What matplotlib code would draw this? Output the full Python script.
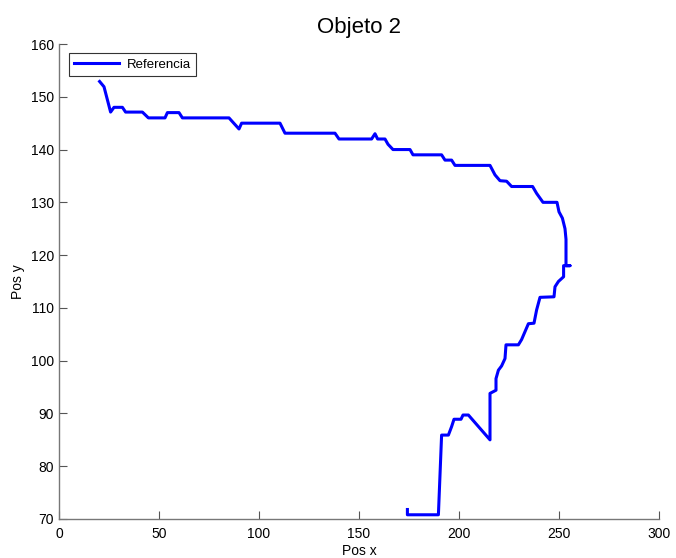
import matplotlib
matplotlib.use("Agg")
import matplotlib.pyplot as plt

plt.rcParams['font.family'] = ['Liberation Sans', 'DejaVu Sans']

pos_x = [20.3, 22.5, 25.8, 27.5, 31.7, 33.3, 41.7, 44.7, 53.0, 54.2, 60.0, 61.7, 85.0, 90.0, 91.3,
         110.5, 113.0, 138.0, 140.0, 156.3, 158.0, 159.3, 163.0, 164.5, 167.0, 175.5, 177.0,
         191.3, 193.0, 196.3, 198.0, 215.5, 218.0, 220.5, 223.8, 226.3, 236.8, 238.8, 242.0,
         249.0, 250.0, 251.7, 253.0, 253.5, 253.5, 255.5, 252.3, 252.3, 249.7, 248.0, 247.5,
         240.5, 238.8, 237.5, 234.7, 233.0, 231.3, 229.7, 223.5, 223.0, 221.3, 219.7, 218.5,
         218.5, 215.5, 215.5, 204.7, 202.0, 201.0, 197.5, 196.3, 194.7, 191.3, 189.7, 174.2, 174.2]
pos_y = [152.9, 151.9, 147.1, 148.0, 148.0, 147.1, 147.1, 146.0, 146.0, 147.0, 147.0, 146.0, 146.0, 143.9, 145.0,
         145.0, 143.1, 143.1, 142.0, 142.0, 143.0, 142.0, 142.0, 141.0, 140.0, 140.0, 139.0,
         139.0, 138.0, 138.0, 137.0, 137.0, 135.2, 134.1, 134.0, 133.0, 133.0, 131.7, 130.0,
         130.0, 128.2, 127.0, 125.0, 123.0, 118.0, 118.0, 118.0, 115.9, 115.0, 114.0, 112.1,
         112.0, 109.6, 107.1, 107.0, 105.5, 104.0, 103.0, 103.0, 100.4, 99.0, 98.2, 96.6,
         94.4, 93.8, 85.0, 89.7, 89.7, 88.9, 88.9, 87.5, 85.9, 85.9, 70.8, 70.8, 71.8]

xticks = [0, 50, 100, 150, 200, 250, 300]
yticks = [70, 80, 90, 100, 110, 120, 130, 140, 150, 160]

fig = plt.figure(figsize=(6.76, 5.58), dpi=100)
ax = fig.add_axes([59/676, 39/558, 600/676, 475/558])
ax.plot(pos_x, pos_y, color='#0000ff', linewidth=2.2, label='Referencia')
ax.set_xlim(0, 300)
ax.set_ylim(70, 160)
ax.set_xticks(xticks)
ax.set_yticks(yticks)
ax.tick_params(direction='in', length=6, width=0.8, color='#555555', labelsize=10, labelcolor='black')
ax.tick_params(axis='x', pad=6)
for s in ['top', 'right']:
    ax.spines[s].set_visible(False)
for s in ['left', 'bottom']:
    ax.spines[s].set_color('#777777')
    ax.spines[s].set_linewidth(1.0)
ax.set_xlabel('Pos x', fontsize=10, labelpad=2)
ax.set_ylabel('Pos y', fontsize=10, labelpad=4)
ax.set_title('Objeto 2', fontsize=16, pad=8)
leg = ax.legend(loc='upper left', bbox_to_anchor=(10/600, 1 - 9/475), borderaxespad=0,
                fontsize=9.5, fancybox=False, framealpha=1, edgecolor='#333333',
                handlelength=3.4, borderpad=0.4, handletextpad=0.6)
leg.get_frame().set_linewidth(0.8)
fig.savefig('out.png', dpi=100)
